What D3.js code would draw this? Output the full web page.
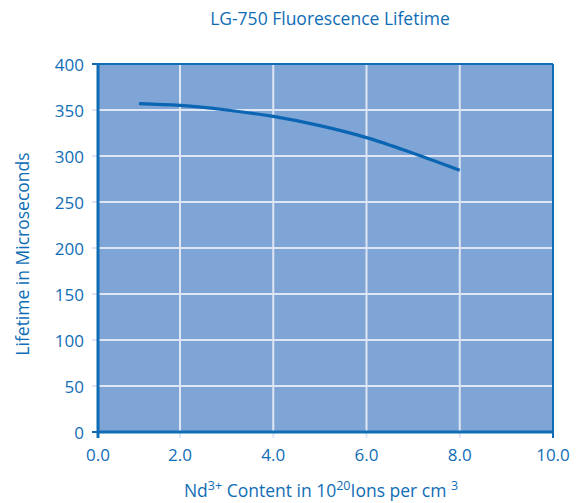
<!DOCTYPE html>
<html><head><meta charset="utf-8">
<script src="https://cdn.jsdelivr.net/npm/d3@7"></script>
<style>body{margin:0;background:#fff}svg{display:block}</style>
</head><body>
<script>
const title = "LG-750 Fluorescence Lifetime";
const yTitle = "Lifetime in Microseconds";
const xTicks = [0, 2, 4, 6, 8, 10];
const xTickLabels = ["0.0","2.0","4.0","6.0","8.0","10.0"];
const yTicks = [0, 50, 100, 150, 200, 250, 300, 350, 400];
const ndContent = [1, 2, 3, 4, 5, 6, 7, 8];
const lifetime = [357, 355, 350, 343, 333, 320, 303, 284.5];

const W = 586, H = 503;
const blue = "#0f6db6", fill = "#7fa4d6", grid = "#dfe6f3";
const font = "'Open Sans', sans-serif";
const svg = d3.select("body").append("svg").attr("width", W).attr("height", H);

const L = 98, R = 553, T = 64, B = 432;
const x = d3.scaleLinear().domain([0, 2, 10]).range([L, 180, R]);
const y = d3.scaleLinear().domain([0, 400]).range([B, T]);

svg.append("rect").attr("x", L).attr("y", T).attr("width", R - L).attr("height", B - T).attr("fill", fill);

// gridlines (extend slightly beyond axes as ticks)
svg.append("g").selectAll("line").data(xTicks.slice(1, -1)).join("line")
  .attr("x1", d => x(d)).attr("x2", d => x(d)).attr("y1", T).attr("y2", B + 6)
  .attr("stroke", grid).attr("stroke-width", 2);
svg.append("g").selectAll("line").data(yTicks.slice(1, -1)).join("line")
  .attr("x1", L - 6).attr("x2", R).attr("y1", d => y(d)).attr("y2", d => y(d))
  .attr("stroke", grid).attr("stroke-width", 2);

// frame
svg.append("line").attr("x1", L).attr("x2", R).attr("y1", T).attr("y2", T).attr("stroke", blue).attr("stroke-width", 2);
svg.append("line").attr("x1", R).attr("x2", R).attr("y1", T).attr("y2", B + 6).attr("stroke", blue).attr("stroke-width", 2);
svg.append("line").attr("x1", L).attr("x2", L).attr("y1", T).attr("y2", B + 6).attr("stroke", blue).attr("stroke-width", 3);
svg.append("line").attr("x1", L).attr("x2", R).attr("y1", B).attr("y2", B).attr("stroke", blue).attr("stroke-width", 3);
svg.append("line").attr("x1", L - 6).attr("x2", L).attr("y1", T).attr("y2", T).attr("stroke", blue).attr("stroke-width", 2);
svg.append("line").attr("x1", L - 6).attr("x2", L).attr("y1", B).attr("y2", B).attr("stroke", blue).attr("stroke-width", 2);

// curve
const line = d3.line().x((d, i) => x(d)).y((d, i) => y(lifetime[i])).curve(d3.curveMonotoneX);
svg.append("path").datum(ndContent).attr("d", line).attr("fill", "none")
  .attr("stroke", "#0a66b2").attr("stroke-width", 3.2).attr("stroke-linecap", "butt");

// tick labels
svg.append("g").selectAll("text").data(yTicks).join("text")
  .attr("x", 84).attr("y", d => y(d) + 1).attr("dy", "0.35em").attr("text-anchor", "end")
  .attr("font-family", font).attr("font-size", 17).attr("fill", blue).text(d => d);
svg.append("g").selectAll("text").data(xTicks).join("text")
  .attr("x", d => x(d)).attr("y", 461).attr("text-anchor", "middle")
  .attr("font-family", font).attr("font-size", 17).attr("fill", blue).text((d, i) => xTickLabels[i]);

// title
svg.append("text").attr("x", 330).attr("y", 25).attr("text-anchor", "middle")
  .attr("font-family", font).attr("font-size", 17.5).attr("fill", blue).text(title);

// y title
svg.append("text").attr("transform", "translate(29,254) rotate(-90)").attr("text-anchor", "middle")
  .attr("font-family", font).attr("font-size", 17.5).attr("fill", blue).text(yTitle);

// x title with superscripts
const xt = svg.append("text").attr("x", 321).attr("y", 497).attr("text-anchor", "middle")
  .attr("font-family", font).attr("font-size", 17.5).attr("fill", blue);
xt.append("tspan").text("Nd");
xt.append("tspan").attr("dy", -7).attr("font-size", 12.5).text("3+");
xt.append("tspan").attr("dy", 7).text(" Content in 10");
xt.append("tspan").attr("dy", -7).attr("font-size", 12.5).text("20");
xt.append("tspan").attr("dy", 7).text("Ions per cm ");
xt.append("tspan").attr("dy", -7).attr("font-size", 12.5).text("3");
</script>
</body></html>
